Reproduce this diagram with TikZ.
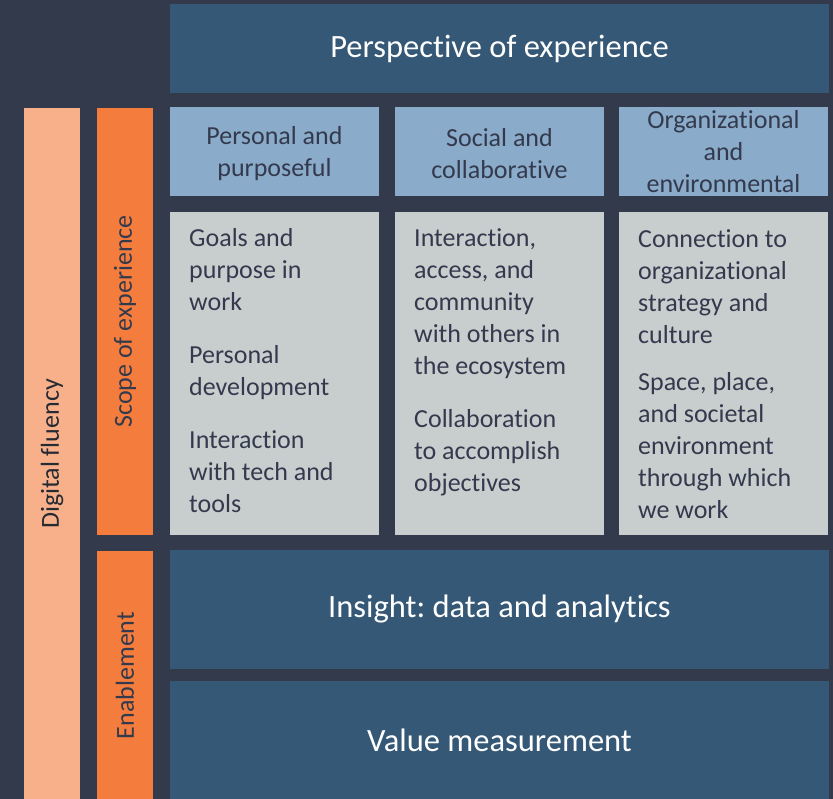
\documentclass[tikz,border=0pt]{standalone}
\usepackage{fontspec}
\setmainfont{Carlito}[Ligatures=NoCommon]
\frenchspacing
\definecolor{bgdark}{HTML}{323A4C}
\definecolor{navy}{HTML}{355876}
\definecolor{lightblue}{HTML}{8BABCA}
\definecolor{palegray}{HTML}{C8CECE}
\definecolor{peach}{HTML}{F8B08A}
\definecolor{deeporange}{HTML}{F47C3C}
\definecolor{textdark}{HTML}{333A4D}
\definecolor{textblack}{HTML}{262A33}
\tikzset{
 	panel/.style={inner sep=0pt,outer sep=0pt,align=center},
 	navybox/.style={panel,fill=navy,text=white,minimum width=659pt,font=\fontsize{32.5}{40}\selectfont},
 	headbox/.style={panel,fill=lightblue,minimum width=209pt,minimum height=89pt},
 	itembox/.style={panel,fill=palegray,minimum width=209pt,minimum height=323pt},
 	cardtext/.style={inner sep=0pt,align=center,text=textdark,font=\fontsize{26}{32}\selectfont},
 	itemtext/.style={cardtext,anchor=north west,align=left,execute at begin node=\strut},
 	sidebar/.style={panel,rotate=90,minimum height=56pt,text=textdark,font=\fontsize{26}{32}\selectfont}
}
\begin{document}
\begin{tikzpicture}[x=1pt,y=-1pt]
 	\fill[bgdark] (0,0) rectangle (833,799);
 	\useasboundingbox (0,0) rectangle (833,799);
 	% top band
 	\node[navybox,minimum height=89pt] (persp) at (499.5,48.5) {Perspective of experience};
 	% side bars
 	\node[sidebar,fill=peach,text=textblack,minimum width=692pt] (fluency) at (52,454) {Digital fluency};
 	\node[sidebar,fill=deeporange,minimum width=427pt] (scope) at (125,321.5) {Scope of experience};
 	\node[sidebar,fill=deeporange,minimum width=249pt] (enable) at (125,675.5) {Enablement};
 	% columns
 	\foreach \x/\i/\dy/\t in {274.5/1/2/{Personal and\\purposeful},499.5/2/2/{Social and\\collaborative},723.5/3/0/{Organizational\\and\\environmental}}{
 	   	\node[headbox] (head\i) at (\x,152) {};
 	   	\node[cardtext] at ([yshift=-\dy pt]head\i.center) {\t};
 	   	\node[itembox] (item\i) at (\x,373.5) {};
 	}
 	\node[itemtext] at ([xshift=19pt,yshift=-16.6pt]item1.north west)
 	   	{Goals and\\purpose in\\work\\[21pt]Personal\\development\\[21pt]Interaction\\with tech and\\tools};
 	\node[itemtext] at ([xshift=19pt,yshift=-16.6pt]item2.north west)
 	   	{Interaction,\\access, and\\community\\with others in\\the ecosystem\\[21pt]Collaboration\\to accomplish\\objectives};
 	\node[itemtext] at ([xshift=19pt,yshift=-17pt]item3.north west)
 	   	{Connection to\\organizational\\strategy and\\culture\\[15pt]Space, place,\\and societal\\environment\\through which\\we work};
 	% bottom bands
 	\node[navybox,minimum height=119pt] (insight) at (499.5,609.5) {Insight: data and analytics};
 	\node[navybox,minimum height=119pt] (value) at (499.5,740.5) {Value measurement};
\end{tikzpicture}
\end{document}
